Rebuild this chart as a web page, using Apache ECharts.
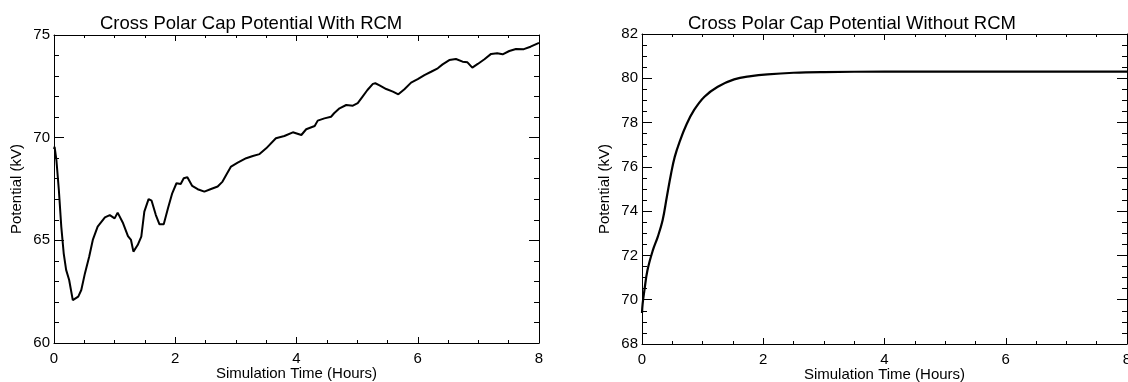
<!DOCTYPE html>
<html>
<head>
<meta charset="utf-8">
<script src="https://cdn.jsdelivr.net/npm/echarts@6/dist/echarts.min.js"></script>
<style>
html,body{margin:0;padding:0;background:#fff;}
#c{width:1128px;height:382px;}
</style>
</head>
<body>
<div id="c"></div>
<script>
// ---- data ----
const titles = ['Cross Polar Cap Potential With RCM', 'Cross Polar Cap Potential Without RCM'];
const xName = 'Simulation Time (Hours)';
const yName = 'Potential (kV)';

const withRcmTime = [0.0, 0.01, 0.04, 0.08, 0.12, 0.16, 0.20, 0.25, 0.31, 0.40, 0.45, 0.51, 0.58, 0.64, 0.72, 0.84, 0.92, 1.0, 1.05, 1.14, 1.22, 1.27, 1.31, 1.38, 1.44, 1.49, 1.56, 1.61, 1.68, 1.74, 1.81, 1.88, 1.95, 2.02, 2.09, 2.14, 2.20, 2.28, 2.37, 2.48, 2.59, 2.70, 2.78, 2.84, 2.92, 3.03, 3.17, 3.28, 3.39, 3.50, 3.66, 3.80, 3.94, 4.08, 4.16, 4.30, 4.35, 4.46, 4.57, 4.62, 4.71, 4.82, 4.93, 5.01, 5.09, 5.17, 5.26, 5.30, 5.37, 5.48, 5.59, 5.68, 5.78, 5.89, 6.0, 6.11, 6.22, 6.33, 6.41, 6.52, 6.63, 6.74, 6.82, 6.90, 6.99, 7.10, 7.21, 7.31, 7.40, 7.51, 7.62, 7.75, 7.86, 8.0];
const withRcmPot = [69.45, 69.55, 68.9, 67.45, 65.67, 64.37, 63.56, 63.07, 62.09, 62.26, 62.58, 63.39, 64.2, 65.02, 65.67, 66.12, 66.23, 66.07, 66.35, 65.83, 65.21, 65.02, 64.45, 64.77, 65.18, 66.4, 67.01, 66.93, 66.23, 65.78, 65.78, 66.56, 67.29, 67.78, 67.74, 68.02, 68.07, 67.65, 67.49, 67.37, 67.5, 67.62, 67.86, 68.18, 68.59, 68.78, 69.0, 69.11, 69.2, 69.48, 69.97, 70.08, 70.26, 70.13, 70.41, 70.57, 70.83, 70.94, 71.02, 71.19, 71.43, 71.59, 71.56, 71.68, 72.0, 72.32, 72.62, 72.65, 72.55, 72.37, 72.24, 72.11, 72.36, 72.68, 72.85, 73.05, 73.21, 73.38, 73.57, 73.78, 73.83, 73.7, 73.67, 73.41, 73.59, 73.82, 74.08, 74.11, 74.06, 74.22, 74.32, 74.31, 74.43, 74.62];

const withoutRcmTime = [0, 0.01, 0.04, 0.09, 0.18, 0.26, 0.34, 0.41, 0.48, 0.54, 0.62, 0.73, 0.86, 1.03, 1.25, 1.52, 1.80, 2.07, 2.5, 3.0, 4.0, 5.0, 6.0, 7.0, 8.0];
const withoutRcmPot = [69.4, 69.8, 70.43, 71.33, 72.24, 72.84, 73.59, 74.65, 75.70, 76.45, 77.13, 77.89, 78.57, 79.17, 79.62, 79.95, 80.10, 80.18, 80.25, 80.28, 80.3, 80.3, 80.3, 80.3, 80.3];

const xTicks = {min: 0, max: 8, interval: 2};
const yTicksLeft = {min: 60, max: 75, interval: 5};
const yTicksRight = {min: 68, max: 82, interval: 2};

// ---- chart ----
const FONT = 'Liberation Sans, Arial, Helvetica, sans-serif';
const chart = echarts.init(document.getElementById('c'), null, {renderer: 'canvas'});

function xAxes(gridIndex) {
  const common = {
    type: 'value', gridIndex: gridIndex, min: xTicks.min, max: xTicks.max, interval: xTicks.interval,
    axisLine: {show: true, onZero: false, lineStyle: {color: '#000', width: 1}},
    axisTick: {show: true, inside: true, length: 6, lineStyle: {color: '#000'}},
    minorTick: {show: true, splitNumber: 4, length: 3, lineStyle: {color: '#000'}},
    splitLine: {show: false}, minorSplitLine: {show: false}
  };
  return [
    Object.assign({}, common, {
      position: 'bottom',
      axisLabel: {show: true, color: '#000', fontSize: 15, fontFamily: FONT, margin: 8, hideOverlap: false},
      name: xName, nameLocation: 'middle', nameGap: 23, nameMoveOverlap: false,
      nameTextStyle: {color: '#000', fontSize: 15, fontFamily: FONT}
    }),
    Object.assign({}, common, {position: 'top', axisLabel: {show: false}})
  ];
}
function yAxes(gridIndex, t, minorSplit) {
  const common = {
    type: 'value', gridIndex: gridIndex, min: t.min, max: t.max, interval: t.interval,
    axisLine: {show: true, onZero: false, lineStyle: {color: '#000', width: 1}},
    axisTick: {show: true, inside: true, length: 10, lineStyle: {color: '#000'}},
    minorTick: {show: true, splitNumber: minorSplit, length: 5, lineStyle: {color: '#000'}},
    splitLine: {show: false}, minorSplitLine: {show: false}
  };
  return [
    Object.assign({}, common, {
      position: 'left',
      axisLabel: {show: true, color: '#000', fontSize: 15, fontFamily: FONT, margin: 4},
      name: yName, nameLocation: 'middle', nameGap: 30, nameMoveOverlap: false,
      nameTextStyle: {color: '#000', fontSize: 15, fontFamily: FONT}
    }),
    Object.assign({}, common, {position: 'right', axisLabel: {show: false}})
  ];
}

const option = {
  animation: false,
  backgroundColor: '#fff',
  title: [
    {text: titles[0], left: 95, top: 9, textStyle: {color: '#000', fontSize: 18.5, fontWeight: 'normal', fontFamily: FONT}},
    {text: titles[1], left: 683, top: 9, textStyle: {color: '#000', fontSize: 18.5, fontWeight: 'normal', fontFamily: FONT}}
  ],
  grid: [
    {left: 54, right: 589, top: 35, bottom: 39, containLabel: false, outerBoundsMode: 'none'},
    {left: 642, right: 1, top: 34, bottom: 38, containLabel: false, outerBoundsMode: 'none'}
  ],
  xAxis: xAxes(0).concat(xAxes(1)),
  yAxis: yAxes(0, yTicksLeft, 5).concat(yAxes(1, yTicksRight, 4)),
  series: [
    {
      type: 'line', xAxisIndex: 0, yAxisIndex: 0, showSymbol: false,
      data: withRcmTime.map((t, i) => [t, withRcmPot[i]]),
      lineStyle: {color: '#000', width: 2}, itemStyle: {color: '#000'}
    },
    {
      type: 'line', xAxisIndex: 2, yAxisIndex: 2, showSymbol: false, smooth: 0.4,
      data: withoutRcmTime.map((t, i) => [t, withoutRcmPot[i]]),
      lineStyle: {color: '#000', width: 2.2}, itemStyle: {color: '#000'}
    }
  ]
};
chart.setOption(option);
</script>
</body>
</html>
